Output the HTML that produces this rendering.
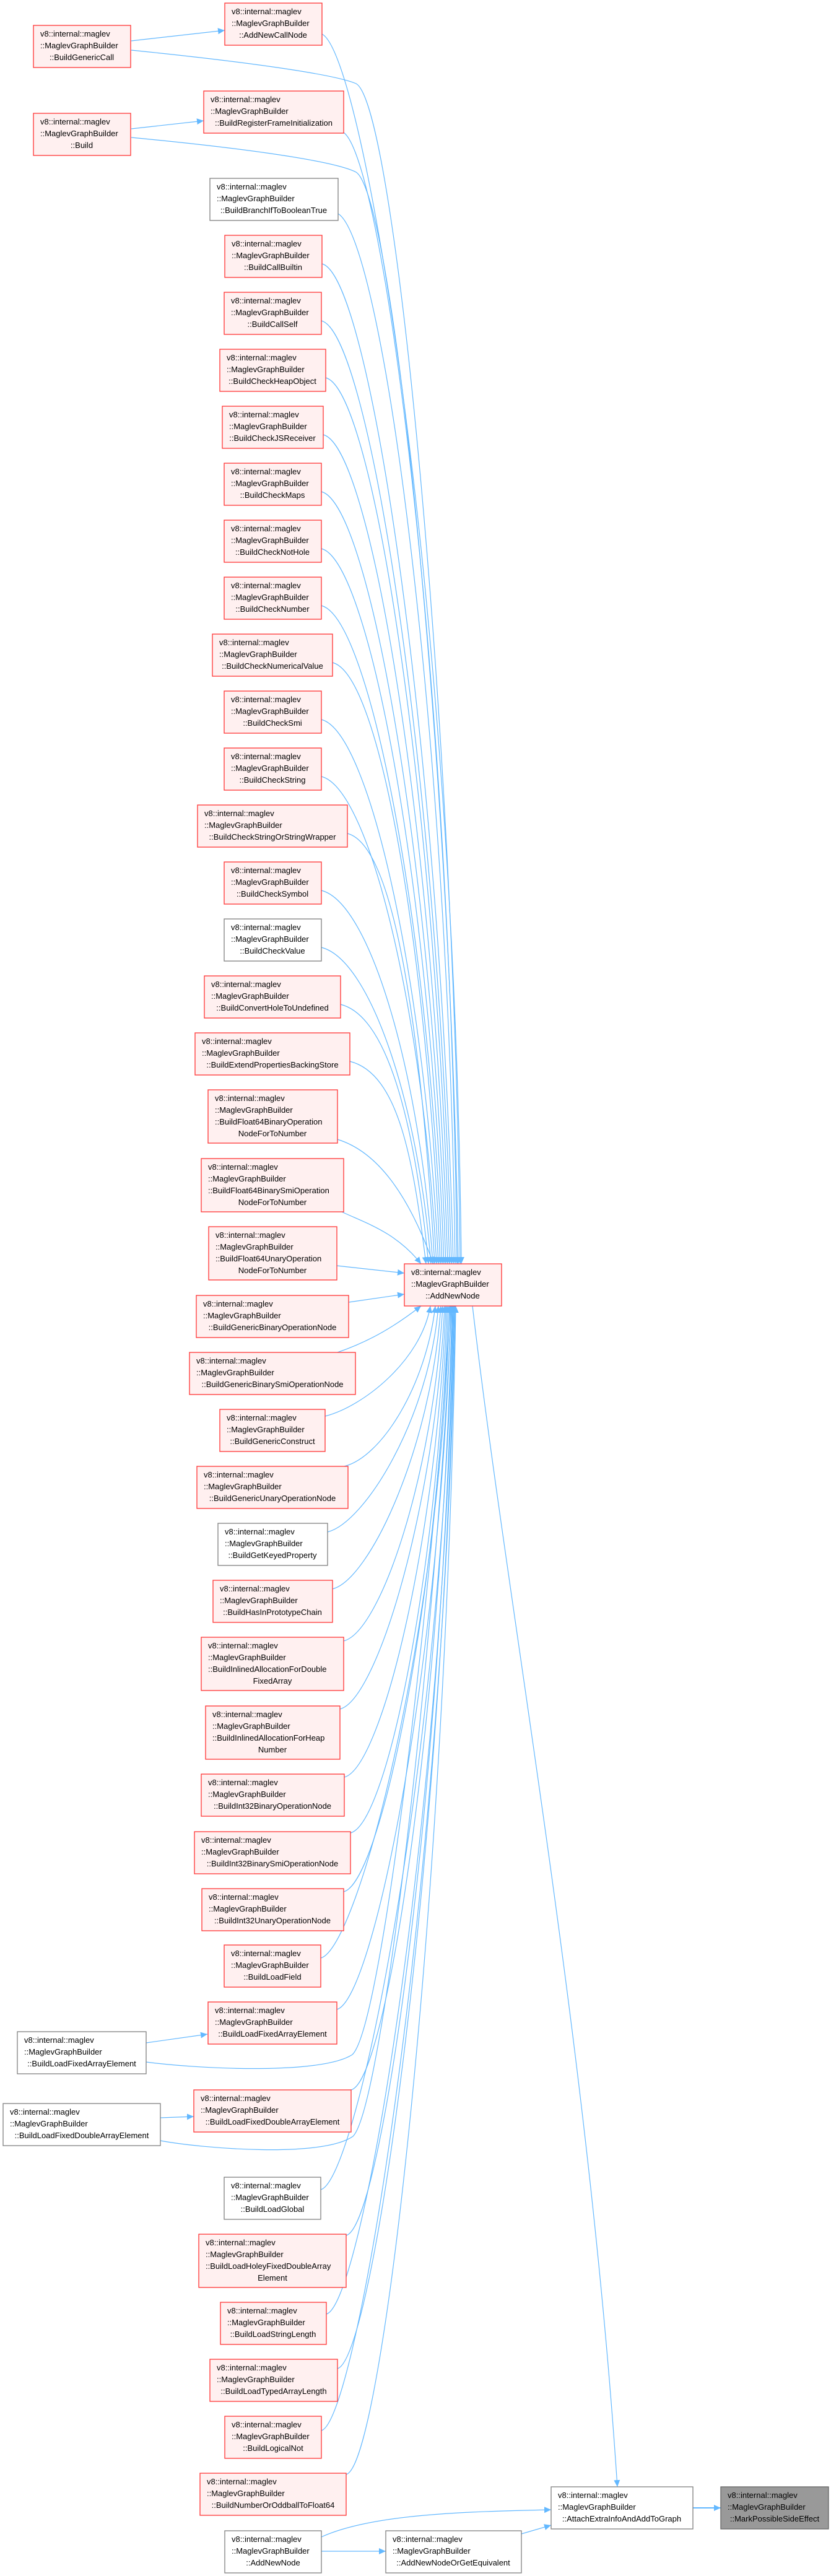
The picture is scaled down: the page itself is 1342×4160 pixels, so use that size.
<!DOCTYPE html>
<html><head><meta charset="utf-8"><style>
html,body{margin:0;padding:0;background:#fff}
svg{display:block}
text{font-family:"Liberation Sans",sans-serif;font-size:13px;fill:#000}
.r{fill:#fff0f0;stroke:#f33;stroke-width:1.3}
.w{fill:#fff;stroke:#808080;stroke-width:1.3}
.g{fill:#999;stroke:#666;stroke-width:1.3}
.e{fill:none;stroke:#63b8ff;stroke-width:1.2}
</style></head><body>
<svg width="1342" height="4160" viewBox="0 0 1342 4160" xmlns="http://www.w3.org/2000/svg">
<defs><marker id="a" markerUnits="userSpaceOnUse" markerWidth="12" markerHeight="10" refX="11" refY="5" orient="auto"><path d="M0,0 L11,5 L0,10 z" fill="#63b8ff"/></marker></defs>
<g marker-end="url(#a)">
<path class="e" d="M212,66 L363,49"/>
<path class="e" d="M212,81 C400,100 540,120 575,135 C640,170 735,1200 743,2041"/>
<path class="e" d="M212,208 L329,195"/>
<path class="e" d="M212,222 C400,240 540,260 575,278 C640,320 730,1300 740,2041"/>
<path class="e" d="M520,55 C590,90 735,1000 745,2041"/>
<path class="e" d="M555,214 C620,260 728,1100 738,2041"/>
<path class="e" d="M546,345 C620,390 725,1200 735,2041"/>
<path class="e" d="M520,426 C600,446 712,1233 732,2041"/>
<path class="e" d="M519,518 C599,538 709,1280 729,2041"/>
<path class="e" d="M526,610 C606,630 706,1325 726,2041"/>
<path class="e" d="M522,702 C602,722 703,1372 723,2041"/>
<path class="e" d="M519,794 C599,814 700,1418 720,2041"/>
<path class="e" d="M519,886 C599,906 697,1464 717,2041"/>
<path class="e" d="M519,978 C599,998 694,1510 714,2041"/>
<path class="e" d="M537,1070 C617,1090 691,1556 711,2041"/>
<path class="e" d="M519,1162 C599,1182 688,1602 708,2041"/>
<path class="e" d="M519,1254 C599,1274 685,1648 705,2041"/>
<path class="e" d="M561,1346 C641,1366 682,1694 702,2041"/>
<path class="e" d="M519,1438 C599,1458 679,1740 699,2041"/>
<path class="e" d="M519,1530 C599,1550 676,1786 696,2041"/>
<path class="e" d="M550,1622 C630,1642 672,1832 692,2041"/>
<path class="e" d="M565,1714 C645,1734 668,1878 688,2041"/>
<path class="e" d="M545,1840 C610,1860 660,1930 700,2041"/>
<path class="e" d="M552,1957 C590,1975 640,1990 680,2041"/>
<path class="e" d="M544,2044 L653,2056"/>
<path class="e" d="M563,2103 L653,2090"/>
<path class="e" d="M545,2184 C600,2165 640,2140 680,2109"/>
<path class="e" d="M525,2287 C585,2272 680,2198 695,2109"/>
<path class="e" d="M556,2368 C616,2353 688,2238 703,2109"/>
<path class="e" d="M529,2474 C589,2459 693,2291 708,2109"/>
<path class="e" d="M537,2566 C597,2551 697,2337 712,2109"/>
<path class="e" d="M555,2650 C615,2635 700,2380 715,2109"/>
<path class="e" d="M549,2760 C609,2745 703,2434 718,2109"/>
<path class="e" d="M556,2870 C616,2855 705,2489 720,2109"/>
<path class="e" d="M566,2960 C626,2945 707,2535 722,2109"/>
<path class="e" d="M555,3055 C615,3040 709,2582 724,2109"/>
<path class="e" d="M518,3162 C578,3147 711,2635 726,2109"/>
<path class="e" d="M544,3245 C604,3230 713,2677 728,2109"/>
<path class="e" d="M567,3375 C627,3360 715,2742 730,2109"/>
<path class="e" d="M518,3536 C578,3521 716,2822 731,2109"/>
<path class="e" d="M559,3610 C619,3595 717,2860 732,2109"/>
<path class="e" d="M527,3737 C587,3722 718,2923 733,2109"/>
<path class="e" d="M545,3825 C605,3810 719,2967 734,2109"/>
<path class="e" d="M519,3925 C579,3910 720,3017 735,2109"/>
<path class="e" d="M559,3996 C619,3981 721,3052 736,2109"/>
<path class="e" d="M236,3299 L335,3285"/>
<path class="e" d="M236,3330 C330,3342 520,3350 569,3318 C620,3270 705,2500 727,2109"/>
<path class="e" d="M259,3420 L313,3418"/>
<path class="e" d="M259,3457 C330,3470 520,3485 570,3450 C620,3400 708,2600 729,2109"/>
<path class="e" d="M763,2109 C820,2600 950,3300 997,4016"/>
<path class="e" d="M519,4097 C600,4060 750,4056 890,4053"/>
<path class="e" d="M519,4120 L623,4120"/>
<path class="e" d="M842,4092 L890,4078"/>
<path class="e" d="M1119,4050 L1164,4050" style="stroke-width:2"/>
</g>

<g>
<rect class="r" x="54" y="41" width="157" height="68"/><text x="65" y="59">v8::internal::maglev</text><text x="65" y="78">::MaglevGraphBuilder</text><text x="132" y="97" text-anchor="middle">::BuildGenericCall</text>
<rect class="r" x="54" y="183" width="157" height="68"/><text x="65" y="201">v8::internal::maglev</text><text x="65" y="220">::MaglevGraphBuilder</text><text x="132" y="239" text-anchor="middle">::Build</text>
<rect class="w" x="28" y="3281" width="208" height="68"/><text x="39" y="3299">v8::internal::maglev</text><text x="39" y="3318">::MaglevGraphBuilder</text><text x="132" y="3337" text-anchor="middle">::BuildLoadFixedArrayElement</text>
<rect class="w" x="5" y="3397" width="254" height="68"/><text x="16" y="3415">v8::internal::maglev</text><text x="16" y="3434">::MaglevGraphBuilder</text><text x="132" y="3453" text-anchor="middle">::BuildLoadFixedDoubleArrayElement</text>

<rect class="r" x="363" y="5" width="157" height="68"/><text x="374" y="23">v8::internal::maglev</text><text x="374" y="42">::MaglevGraphBuilder</text><text x="441" y="61" text-anchor="middle">::AddNewCallNode</text>
<rect class="r" x="329" y="147" width="226" height="68"/><text x="340" y="165">v8::internal::maglev</text><text x="340" y="184">::MaglevGraphBuilder</text><text x="442" y="203" text-anchor="middle">::BuildRegisterFrameInitialization</text>
<rect class="w" x="339" y="288" width="207" height="68"/><text x="350" y="306">v8::internal::maglev</text><text x="350" y="325">::MaglevGraphBuilder</text><text x="442" y="344" text-anchor="middle">::BuildBranchIfToBooleanTrue</text>
<rect class="r" x="363" y="380" width="157" height="68"/><text x="374" y="398">v8::internal::maglev</text><text x="374" y="417">::MaglevGraphBuilder</text><text x="441" y="436" text-anchor="middle">::BuildCallBuiltin</text>
<rect class="r" x="362" y="472" width="157" height="68"/><text x="373" y="490">v8::internal::maglev</text><text x="373" y="509">::MaglevGraphBuilder</text><text x="440" y="528" text-anchor="middle">::BuildCallSelf</text>
<rect class="r" x="355" y="564" width="171" height="68"/><text x="366" y="582">v8::internal::maglev</text><text x="366" y="601">::MaglevGraphBuilder</text><text x="440" y="620" text-anchor="middle">::BuildCheckHeapObject</text>
<rect class="r" x="359" y="656" width="163" height="68"/><text x="370" y="674">v8::internal::maglev</text><text x="370" y="693">::MaglevGraphBuilder</text><text x="440" y="712" text-anchor="middle">::BuildCheckJSReceiver</text>
<rect class="r" x="362" y="748" width="157" height="68"/><text x="373" y="766">v8::internal::maglev</text><text x="373" y="785">::MaglevGraphBuilder</text><text x="440" y="804" text-anchor="middle">::BuildCheckMaps</text>
<rect class="r" x="362" y="840" width="157" height="68"/><text x="373" y="858">v8::internal::maglev</text><text x="373" y="877">::MaglevGraphBuilder</text><text x="440" y="896" text-anchor="middle">::BuildCheckNotHole</text>
<rect class="r" x="362" y="932" width="157" height="68"/><text x="373" y="950">v8::internal::maglev</text><text x="373" y="969">::MaglevGraphBuilder</text><text x="440" y="988" text-anchor="middle">::BuildCheckNumber</text>
<rect class="r" x="343" y="1024" width="194" height="68"/><text x="354" y="1042">v8::internal::maglev</text><text x="354" y="1061">::MaglevGraphBuilder</text><text x="440" y="1080" text-anchor="middle">::BuildCheckNumericalValue</text>
<rect class="r" x="362" y="1116" width="157" height="68"/><text x="373" y="1134">v8::internal::maglev</text><text x="373" y="1153">::MaglevGraphBuilder</text><text x="440" y="1172" text-anchor="middle">::BuildCheckSmi</text>
<rect class="r" x="362" y="1208" width="157" height="68"/><text x="373" y="1226">v8::internal::maglev</text><text x="373" y="1245">::MaglevGraphBuilder</text><text x="440" y="1264" text-anchor="middle">::BuildCheckString</text>
<rect class="r" x="319" y="1300" width="242" height="68"/><text x="330" y="1318">v8::internal::maglev</text><text x="330" y="1337">::MaglevGraphBuilder</text><text x="440" y="1356" text-anchor="middle">::BuildCheckStringOrStringWrapper</text>
<rect class="r" x="362" y="1392" width="157" height="68"/><text x="373" y="1410">v8::internal::maglev</text><text x="373" y="1429">::MaglevGraphBuilder</text><text x="440" y="1448" text-anchor="middle">::BuildCheckSymbol</text>
<rect class="w" x="362" y="1484" width="157" height="68"/><text x="373" y="1502">v8::internal::maglev</text><text x="373" y="1521">::MaglevGraphBuilder</text><text x="440" y="1540" text-anchor="middle">::BuildCheckValue</text>
<rect class="r" x="330" y="1576" width="220" height="68"/><text x="341" y="1594">v8::internal::maglev</text><text x="341" y="1613">::MaglevGraphBuilder</text><text x="440" y="1632" text-anchor="middle">::BuildConvertHoleToUndefined</text>
<rect class="r" x="315" y="1668" width="250" height="68"/><text x="326" y="1686">v8::internal::maglev</text><text x="326" y="1705">::MaglevGraphBuilder</text><text x="440" y="1724" text-anchor="middle">::BuildExtendPropertiesBackingStore</text>
<rect class="r" x="336" y="1760" width="209" height="86"/><text x="347" y="1778">v8::internal::maglev</text><text x="347" y="1797">::MaglevGraphBuilder</text><text x="347" y="1816">::BuildFloat64BinaryOperation</text><text x="440" y="1835" text-anchor="middle">NodeForToNumber</text>
<rect class="r" x="325" y="1871" width="230" height="86"/><text x="336" y="1889">v8::internal::maglev</text><text x="336" y="1908">::MaglevGraphBuilder</text><text x="336" y="1927">::BuildFloat64BinarySmiOperation</text><text x="440" y="1946" text-anchor="middle">NodeForToNumber</text>
<rect class="r" x="337" y="1981" width="207" height="86"/><text x="348" y="1999">v8::internal::maglev</text><text x="348" y="2018">::MaglevGraphBuilder</text><text x="348" y="2037">::BuildFloat64UnaryOperation</text><text x="440" y="2056" text-anchor="middle">NodeForToNumber</text>
<rect class="r" x="317" y="2092" width="246" height="68"/><text x="328" y="2110">v8::internal::maglev</text><text x="328" y="2129">::MaglevGraphBuilder</text><text x="440" y="2148" text-anchor="middle">::BuildGenericBinaryOperationNode</text>
<rect class="r" x="306" y="2184" width="268" height="68"/><text x="317" y="2202">v8::internal::maglev</text><text x="317" y="2221">::MaglevGraphBuilder</text><text x="440" y="2240" text-anchor="middle">::BuildGenericBinarySmiOperationNode</text>
<rect class="r" x="355" y="2276" width="170" height="68"/><text x="366" y="2294">v8::internal::maglev</text><text x="366" y="2313">::MaglevGraphBuilder</text><text x="440" y="2332" text-anchor="middle">::BuildGenericConstruct</text>
<rect class="r" x="318" y="2368" width="244" height="68"/><text x="329" y="2386">v8::internal::maglev</text><text x="329" y="2405">::MaglevGraphBuilder</text><text x="440" y="2424" text-anchor="middle">::BuildGenericUnaryOperationNode</text>
<rect class="w" x="352" y="2460" width="177" height="68"/><text x="363" y="2478">v8::internal::maglev</text><text x="363" y="2497">::MaglevGraphBuilder</text><text x="440" y="2516" text-anchor="middle">::BuildGetKeyedProperty</text>
<rect class="r" x="344" y="2552" width="193" height="68"/><text x="355" y="2570">v8::internal::maglev</text><text x="355" y="2589">::MaglevGraphBuilder</text><text x="440" y="2608" text-anchor="middle">::BuildHasInPrototypeChain</text>
<rect class="r" x="325" y="2644" width="230" height="86"/><text x="336" y="2662">v8::internal::maglev</text><text x="336" y="2681">::MaglevGraphBuilder</text><text x="336" y="2700">::BuildInlinedAllocationForDouble</text><text x="440" y="2719" text-anchor="middle">FixedArray</text>
<rect class="r" x="332" y="2755" width="217" height="86"/><text x="343" y="2773">v8::internal::maglev</text><text x="343" y="2792">::MaglevGraphBuilder</text><text x="343" y="2811">::BuildInlinedAllocationForHeap</text><text x="440" y="2830" text-anchor="middle">Number</text>
<rect class="r" x="325" y="2865" width="231" height="68"/><text x="336" y="2883">v8::internal::maglev</text><text x="336" y="2902">::MaglevGraphBuilder</text><text x="440" y="2921" text-anchor="middle">::BuildInt32BinaryOperationNode</text>
<rect class="r" x="314" y="2958" width="252" height="68"/><text x="325" y="2976">v8::internal::maglev</text><text x="325" y="2995">::MaglevGraphBuilder</text><text x="440" y="3014" text-anchor="middle">::BuildInt32BinarySmiOperationNode</text>
<rect class="r" x="326" y="3050" width="229" height="68"/><text x="337" y="3068">v8::internal::maglev</text><text x="337" y="3087">::MaglevGraphBuilder</text><text x="440" y="3106" text-anchor="middle">::BuildInt32UnaryOperationNode</text>
<rect class="r" x="362" y="3141" width="156" height="68"/><text x="373" y="3159">v8::internal::maglev</text><text x="373" y="3178">::MaglevGraphBuilder</text><text x="440" y="3197" text-anchor="middle">::BuildLoadField</text>
<rect class="r" x="336" y="3233" width="208" height="68"/><text x="347" y="3251">v8::internal::maglev</text><text x="347" y="3270">::MaglevGraphBuilder</text><text x="440" y="3289" text-anchor="middle">::BuildLoadFixedArrayElement</text>
<rect class="r" x="313" y="3375" width="254" height="68"/><text x="324" y="3393">v8::internal::maglev</text><text x="324" y="3412">::MaglevGraphBuilder</text><text x="440" y="3431" text-anchor="middle">::BuildLoadFixedDoubleArrayElement</text>
<rect class="w" x="362" y="3516" width="156" height="68"/><text x="373" y="3534">v8::internal::maglev</text><text x="373" y="3553">::MaglevGraphBuilder</text><text x="440" y="3572" text-anchor="middle">::BuildLoadGlobal</text>
<rect class="r" x="321" y="3608" width="238" height="86"/><text x="332" y="3626">v8::internal::maglev</text><text x="332" y="3645">::MaglevGraphBuilder</text><text x="332" y="3664">::BuildLoadHoleyFixedDoubleArray</text><text x="440" y="3683" text-anchor="middle">Element</text>
<rect class="r" x="356" y="3718" width="171" height="68"/><text x="367" y="3736">v8::internal::maglev</text><text x="367" y="3755">::MaglevGraphBuilder</text><text x="441" y="3774" text-anchor="middle">::BuildLoadStringLength</text>
<rect class="r" x="339" y="3810" width="206" height="68"/><text x="350" y="3828">v8::internal::maglev</text><text x="350" y="3847">::MaglevGraphBuilder</text><text x="442" y="3866" text-anchor="middle">::BuildLoadTypedArrayLength</text>
<rect class="r" x="363" y="3902" width="156" height="68"/><text x="374" y="3920">v8::internal::maglev</text><text x="374" y="3939">::MaglevGraphBuilder</text><text x="441" y="3958" text-anchor="middle">::BuildLogicalNot</text>
<rect class="r" x="323" y="3994" width="236" height="68"/><text x="334" y="4012">v8::internal::maglev</text><text x="334" y="4031">::MaglevGraphBuilder</text><text x="441" y="4050" text-anchor="middle">::BuildNumberOrOddballToFloat64</text>
<rect class="w" x="363" y="4087" width="156" height="68"/><text x="374" y="4105">v8::internal::maglev</text><text x="374" y="4124">::MaglevGraphBuilder</text><text x="441" y="4143" text-anchor="middle">::AddNewNode</text>

<rect class="r" x="653" y="2041" width="157" height="68"/><text x="664" y="2059">v8::internal::maglev</text><text x="664" y="2078">::MaglevGraphBuilder</text><text x="731" y="2097" text-anchor="middle">::AddNewNode</text>
<rect class="w" x="623" y="4087" width="219" height="68"/><text x="634" y="4105">v8::internal::maglev</text><text x="634" y="4124">::MaglevGraphBuilder</text><text x="732" y="4143" text-anchor="middle">::AddNewNodeOrGetEquivalent</text>
<rect class="w" x="890" y="4016" width="229" height="68"/><text x="901" y="4034">v8::internal::maglev</text><text x="901" y="4053">::MaglevGraphBuilder</text><text x="1004" y="4072" text-anchor="middle">::AttachExtraInfoAndAddToGraph</text>
<rect class="g" x="1164" y="4016" width="174" height="68"/><text x="1175" y="4034">v8::internal::maglev</text><text x="1175" y="4053">::MaglevGraphBuilder</text><text x="1251" y="4072" text-anchor="middle">::MarkPossibleSideEffect</text>
</g>
</svg>
</body></html>
